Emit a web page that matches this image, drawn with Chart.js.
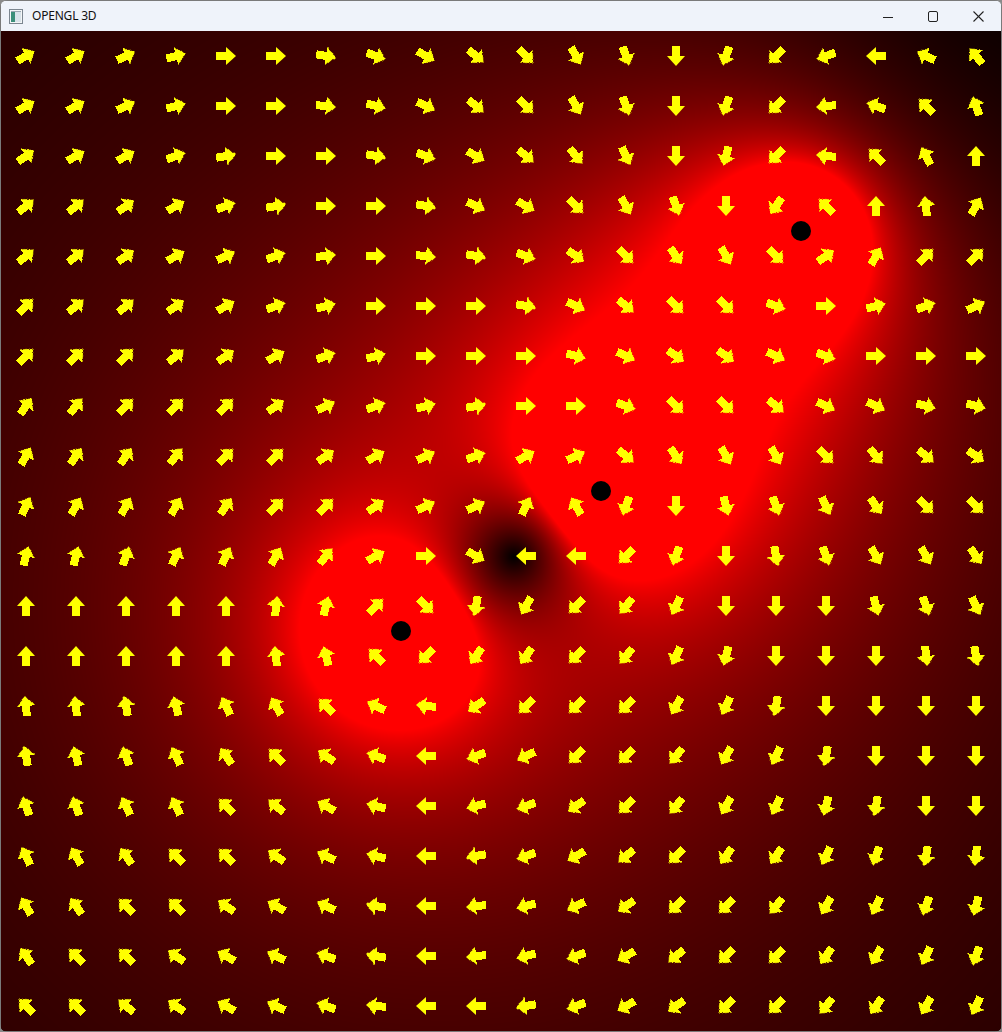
<!DOCTYPE html>
<html>
<head>
<meta charset="utf-8">
<title>OPENGL 3D</title>
<script src="https://cdn.jsdelivr.net/npm/chart.js@4/dist/chart.umd.min.js"></script>
<style>
  html, body { margin: 0; padding: 0; background: #8a8a8a; }
  body { width: 1002px; height: 1032px; overflow: hidden; position: relative; }
  #win { position: absolute; left: 0; top: 0; width: 1002px; height: 1032px; background: #7a7a7a; border-radius: 8px; overflow: hidden; }
  #title { position: absolute; left: 1px; top: 1px; width: 1000px; height: 30px; background: #eff3fa; }
  #title .txt { position: absolute; left: 31px; top: 7px; font: 12px "Noto Sans", "DejaVu Sans", sans-serif; color: #111; line-height: 16px; letter-spacing: -0.2px; }
  #title svg { position: absolute; }
  #plot { position: absolute; left: 1px; top: 31px; width: 1000px; height: 1000px; background: #000; }
  #plot canvas { display: block; }
</style>
</head>
<body>
<div id="win">
  <div id="title">
    <svg style="left:8px;top:8px" width="14" height="15" viewBox="0 0 14 15">
      <rect x="0.5" y="0.5" width="13" height="14" fill="#f4f6f8" stroke="#7c8690"/>
      <rect x="2" y="3" width="4" height="10" fill="#3b8f7a"/>
      <rect x="6" y="3" width="6" height="10" fill="#d9e3ea"/>
      <rect x="2" y="2" width="10" height="1" fill="#9aa6b0"/>
    </svg>
    <span class="txt">OPENGL 3D</span>
    <svg style="left:881px;top:10px" width="12" height="12" viewBox="0 0 12 12">
      <line x1="1" y1="6.5" x2="11" y2="6.5" stroke="#222" stroke-width="1"/>
    </svg>
    <svg style="left:926px;top:9px" width="12" height="13" viewBox="0 0 12 13">
      <rect x="1.5" y="1.5" width="9" height="10" rx="1.5" fill="none" stroke="#222" stroke-width="1"/>
    </svg>
    <svg style="left:971px;top:9px" width="13" height="13" viewBox="0 0 13 13">
      <line x1="1.5" y1="1.5" x2="11.5" y2="11.5" stroke="#222" stroke-width="1.1"/>
      <line x1="11.5" y1="1.5" x2="1.5" y2="11.5" stroke="#222" stroke-width="1.1"/>
    </svg>
  </div>
  <div id="plot"><canvas id="c" width="1000" height="1000" style="width:1000px;height:1000px"></canvas></div>
</div>
<script>
// ---- grid positions (plot units = pixels of the 1000x1000 view, y downwards) ----
const colX = [25, 75, 125, 175, 225, 275, 325, 375, 425, 475, 525, 575, 625, 675, 725, 775, 825, 875, 925, 975];
const rowY = [25, 75, 125, 175, 225, 275, 325, 375, 425, 475, 525, 575, 625, 675, 725, 775, 825, 875, 925, 975];

// ---- arrow directions, degrees, 0 = pointing right, positive = turning clockwise on screen ----
const angleRow00 = [-30, -30, -25, -15, 0, 0, 10, 20, 30, 40, 45, 60, 70, 90, 110, 135, 160, 180, 205, 230];
const angleRow01 = [-30, -30, -25, -15, 0, 0, 5, 15, 25, 40, 45, 60, 70, 90, 110, 135, 175, 200, 225, 250];
const angleRow02 = [-35, -30, -30, -20, -10, 0, 0, 10, 20, 30, 40, 50, 65, 90, 105, 135, 185, 225, 242, 270];
const angleRow03 = [-40, -40, -35, -30, -20, -10, 0, 0, 10, 25, 30, 45, 60, 70, 90, 125, 225, 270, 265, 300];
const angleRow04 = [-40, -40, -35, -30, -25, -20, -5, 0, 5, 10, 20, 35, 45, 55, 60, 45, -35, -60, -45, -45];
const angleRow05 = [-45, -40, -40, -35, -30, -20, -15, 0, 0, 0, 10, 25, 40, 45, 45, 20, 0, -15, -20, -25];
const angleRow06 = [-45, -45, -45, -40, -35, -30, -20, -15, 0, 0, 0, 15, 25, 35, 35, 25, 20, 0, 0, 0];
const angleRow07 = [-55, -50, -45, -45, -45, -35, -25, -20, -15, -10, 0, 0, 20, 45, 45, 40, 25, 25, 15, 15];
const angleRow08 = [-60, -55, -55, -50, -45, -45, -35, -30, -25, -20, -30, -25, 40, 55, 60, 60, 45, 50, 40, 35];
const angleRow09 = [-65, -60, -60, -60, -55, -45, -45, -35, -25, -25, -65, 240, 110, 90, 75, 70, 65, 55, 45, 45];
const angleRow10 = [-75, -75, -70, -65, -65, -60, -50, -30, 0, 30, 180, 180, 135, 110, 90, 80, 70, 60, 60, 55];
const angleRow11 = [-90, -90, -90, -90, -88, -85, -75, -45, 45, 100, 120, 135, 130, 115, 90, 90, 90, 75, 70, 65];
const angleRow12 = [-90, -90, -90, -90, -90, -95, -105, -135, 135, 125, 125, 135, 130, 115, 105, 90, 90, 90, 85, 80];
const angleRow13 = [-95, -95, -100, -105, -115, -120, -135, -155, 185, 145, 135, 135, 135, 120, 115, 100, 90, 90, 90, 90];
const angleRow14 = [-100, -105, -110, -115, -125, -135, -145, -160, 180, 160, 155, 135, 135, 130, 120, 115, 100, 90, 90, 90];
const angleRow15 = [-110, -110, -115, -115, -135, -140, -150, -165, 180, 165, 160, 145, 135, 130, 120, 115, 105, 100, 90, 90];
const angleRow16 = [-115, -120, -125, -135, -135, -145, -155, -165, 180, 170, 160, 150, 140, 135, 125, 125, 115, 110, 100, 95];
const angleRow17 = [-120, -125, -135, -135, -145, -150, -155, -170, 180, 175, 165, 155, 145, 135, 135, 130, 120, 115, 110, 105];
const angleRow18 = [-125, -135, -135, -145, -150, -155, -160, -170, 180, 175, 165, 160, 150, 140, 135, 135, 125, 120, 115, 110];
const angleRow19 = [-135, -135, -140, -145, -150, -155, -160, -175, 180, 180, 170, 160, 150, 145, 135, 135, 130, 125, 120, 115];
const angleRows = [angleRow00, angleRow01, angleRow02, angleRow03, angleRow04, angleRow05, angleRow06, angleRow07, angleRow08, angleRow09,
                   angleRow10, angleRow11, angleRow12, angleRow13, angleRow14, angleRow15, angleRow16, angleRow17, angleRow18, angleRow19];

// ---- the three sources (black dots) and their estimated strengths (+ = clockwise swirl) ----
const chargeX = [400, 600, 800];
const chargeY = [600, 460, 200];
const chargeStrength = [1, 1.05, -1];

// style parameter: distance (px) from a unit source at which the red shading saturates
const saturationRadius = 87;

// ---- build datasets from the arrays ----
const arrowPoints = [];
rowY.forEach((yv, r) => colX.forEach((xv, c) => arrowPoints.push({ x: xv, y: yv, a: angleRows[r][c] })));
const chargePoints = chargeX.map((xv, i) => ({ x: xv, y: chargeY[i] }));

function makeArrow() {
  const cv = document.createElement('canvas');
  cv.width = 24; cv.height = 24;
  const g = cv.getContext('2d');
  g.fillStyle = '#ffff00';
  g.fillRect(2, 8, 11, 8);
  g.beginPath();
  g.moveTo(12, 3); g.lineTo(22, 12); g.lineTo(12, 21); g.closePath();
  g.fill();
  return cv;
}
const arrowImg = makeArrow();

let shadeCache = null;
const fieldShade = {
  id: 'fieldShade',
  beforeDatasetsDraw(chart) {
    const { ctx, chartArea: a, scales } = chart;
    const w = Math.round(a.right - a.left), h = Math.round(a.bottom - a.top);
    if (!shadeCache || shadeCache.width !== w || shadeCache.height !== h) {
      const off = document.createElement('canvas');
      off.width = w; off.height = h;
      const octx = off.getContext('2d');
      const img = octx.createImageData(w, h);
      const cx = chargeX.map(v => scales.x.getPixelForValue(v) - a.left);
      const cy = chargeY.map(v => scales.y.getPixelForValue(v) - a.top);
      const n = cx.length;
      for (let j = 0; j < h; j++) {
        for (let i = 0; i < w; i++) {
          let ex = 0, ey = 0;
          for (let k = 0; k < n; k++) {
            const dx = i + 0.5 - cx[k], dy = j + 0.5 - cy[k];
            const r2 = dx * dx + dy * dy + 1;
            ex += chargeStrength[k] * (-dy) / r2;
            ey += chargeStrength[k] * dx / r2;
          }
          const m = Math.min(1, Math.sqrt(ex * ex + ey * ey) * saturationRadius);
          const p = (j * w + i) * 4;
          img.data[p] = Math.round(m * 255);
          img.data[p + 1] = 0;
          img.data[p + 2] = 0;
          img.data[p + 3] = 255;
        }
      }
      octx.putImageData(img, 0, 0);
      shadeCache = off;
    }
    ctx.save();
    ctx.drawImage(shadeCache, a.left, a.top);
    ctx.restore();
    ctx.imageSmoothingEnabled = false;
  }
};

new Chart(document.getElementById('c'), {
  type: 'scatter',
  data: {
    datasets: [
      {
        label: 'field',
        data: arrowPoints,
        pointStyle: arrowImg,
        rotation: (ctx) => (ctx.raw ? ctx.raw.a : 0),
        pointRadius: 10,
        clip: false,
        order: 2
      },
      {
        label: 'sources',
        data: chargePoints,
        pointStyle: 'circle',
        pointRadius: 10,
        backgroundColor: '#000000',
        borderColor: '#000000',
        borderWidth: 0,
        clip: false,
        order: 1
      }
    ]
  },
  options: {
    responsive: false,
    devicePixelRatio: 1,
    animation: false,
    events: [],
    layout: { padding: 0, autoPadding: false },
    plugins: { legend: { display: false }, tooltip: { enabled: false } },
    scales: {
      x: { type: 'linear', min: 0, max: 1000, display: false },
      y: { type: 'linear', min: 0, max: 1000, reverse: true, display: false }
    }
  },
  plugins: [fieldShade]
});
</script>
</body>
</html>
